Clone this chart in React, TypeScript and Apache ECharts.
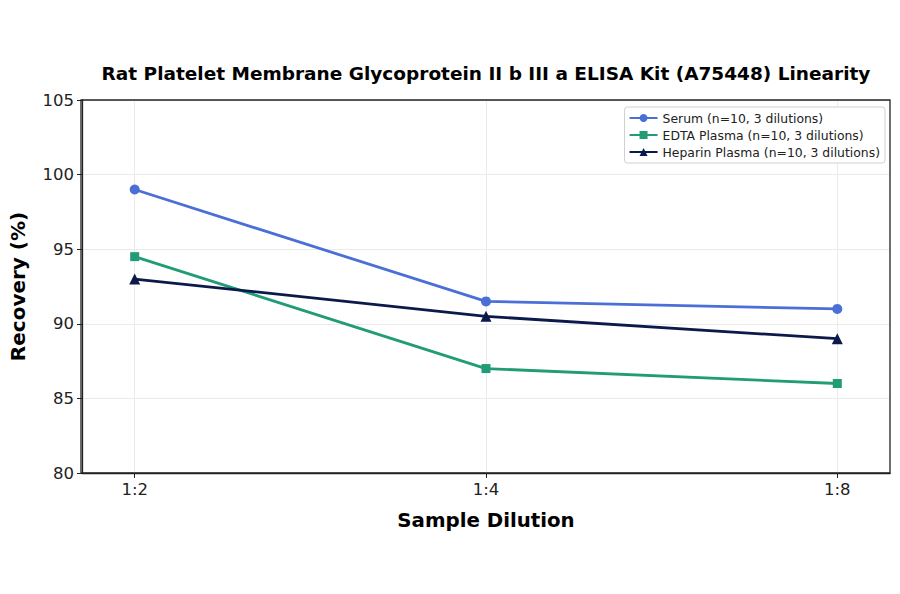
import { useEffect, useRef } from "react";
import * as echarts from "echarts";

const dilutions = ["1:2", "1:4", "1:8"];
const serum = [99, 91.5, 91];
const edta = [94.5, 87, 86];
const heparin = [93, 90.5, 89];
const yTicks = [80, 85, 90, 95, 100, 105];

const FONT = "DejaVu Sans";

export default function App() {
  const chartRef = useRef<HTMLDivElement>(null);

  useEffect(() => {
    if (!chartRef.current) return;
    const chart = echarts.init(chartRef.current, undefined, { renderer: "svg" });

    const idx = dilutions.map((_, i) => i);
    const mk = (name: string, vals: number[], color: string, symbol: string, size: number) => ({
      name,
      type: "line",
      data: vals.map((v, i) => [i, v]),
      symbol,
      symbolSize: size,
      lineStyle: { color, width: 2.8 },
      itemStyle: { color },
      z: 3,
    });

    const series: any[] = [
      mk("Serum (n=10, 3 dilutions)", serum, "#4a6fd6", "circle", 10),
      mk("EDTA Plasma (n=10, 3 dilutions)", edta, "#229c77", "rect", 9),
      mk("Heparin Plasma (n=10, 3 dilutions)", heparin, "#0c1a4b", "triangle", 11),
    ];
    // faint vertical grid lines at the category positions
    series[0].markLine = {
      silent: true,
      symbol: "none",
      label: { show: false },
      lineStyle: { color: "#ebebeb", width: 1, type: "solid" },
      data: idx.map((i) => ({ xAxis: i })),
      z: 1,
    };

    chart.setOption({
      animation: false,
      textStyle: { fontFamily: FONT },
      title: {
        text: "Rat Platelet Membrane Glycoprotein II b III a ELISA Kit (A75448) Linearity",
        left: 481,
        top: 59,
        textAlign: "center",
        textStyle: { fontFamily: FONT, fontSize: 18.5, fontWeight: "bold", color: "#000" },
      },
      legend: {
        orient: "vertical",
        right: 15,
        top: 107,
        itemWidth: 28,
        itemHeight: 10,
        itemGap: 5,
        padding: [5, 5, 5, 4],
        backgroundColor: "#fff",
        borderColor: "#d0d0d0",
        borderWidth: 1,
        borderRadius: 3,
        textStyle: { fontFamily: FONT, fontSize: 12.4, color: "#222" },
      },
      grid: { left: 81, right: 10, top: 100, bottom: 121 },
      xAxis: {
        type: "value",
        min: -0.15,
        max: 2.15,
        name: "Sample Dilution",
        nameLocation: "middle",
        nameGap: 37,
        nameTextStyle: { fontFamily: FONT, fontSize: 19.8, fontWeight: "bold", color: "#000" },
        axisLine: { show: true, onZero: false, lineStyle: { color: "#222", width: 1.3 } },
        axisTick: { show: true, customValues: idx, length: 5, lineStyle: { color: "#222" } },
        axisLabel: {
          customValues: idx,
          formatter: (v: number) => dilutions[Math.round(v)] ?? "",
          fontSize: 16.5,
          color: "#222",
          margin: 8,
        },
        splitLine: { show: false },
      },
      yAxis: {
        type: "value",
        min: 80,
        max: 105,
        interval: 5,
        name: "Recovery (%)",
        nameLocation: "middle",
        nameGap: 54,
        nameTextStyle: { fontFamily: FONT, fontSize: 20, fontWeight: "bold", color: "#000" },
        axisLine: { show: true, onZero: false, lineStyle: { color: "#222", width: 1.3 } },
        axisTick: { show: true, length: 5, lineStyle: { color: "#222" } },
        axisLabel: {
          formatter: (v: number) => (yTicks.includes(v) ? String(v) : ""),
          fontSize: 16.5,
          color: "#222",
          margin: 8,
        },
        splitLine: { show: true, lineStyle: { color: "#ebebeb", width: 1 } },
      },
      graphic: [
        {
          type: "rect",
          shape: { x: 81, y: 100, width: 809, height: 373 },
          style: { fill: "none", stroke: "#222", lineWidth: 1.3 },
          silent: true,
          z: 10,
        },
      ],
      series,
    });

    return () => chart.dispose();
  }, []);

  return (
    <div
      ref={chartRef}
      style={{ position: "fixed", left: 0, top: 0, width: 900, height: 594, background: "#fff" }}
    />
  );
}
